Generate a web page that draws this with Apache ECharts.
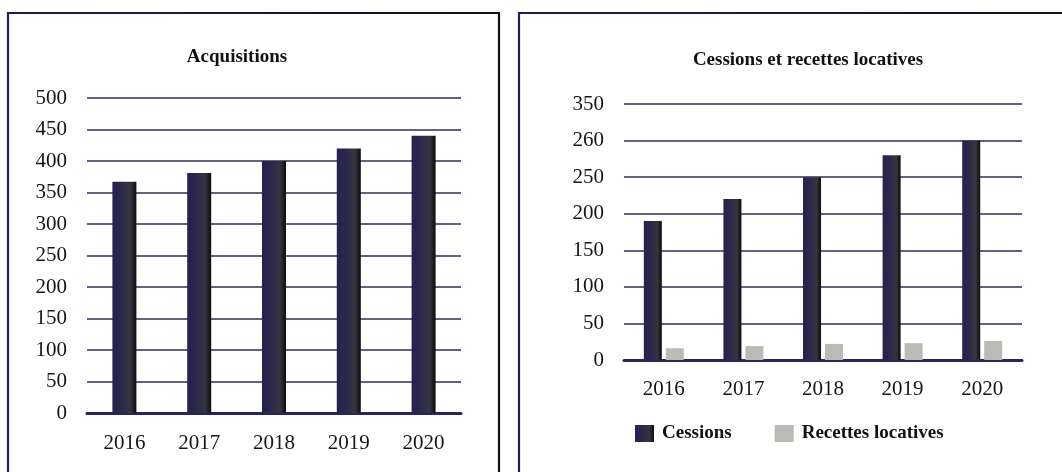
<!DOCTYPE html>
<html>
<head>
<meta charset="utf-8">
<script src="https://cdn.jsdelivr.net/npm/echarts@6/dist/echarts.min.js"></script>
<style>
html,body{margin:0;padding:0;background:#fff;}
#c{width:1062px;height:472px;}
</style>
</head>
<body>
<div id="c"></div>
<script>
// ---- data ----
const years = ['2016', '2017', '2018', '2019', '2020'];
const acquisitions = [367, 381, 400, 420, 440];
const cessions = [190, 220, 250, 280, 300];
const recettesLocatives = [16, 19, 22, 23, 26];
const leftTickLabels = ['0', '50', '100', '150', '200', '250', '300', '350', '400', '450', '500'];
const rightTickLabels = ['0', '50', '100', '150', '200', '250', '260', '350'];
const leftTitle = 'Acquisitions';
const rightTitle = 'Cessions et recettes locatives';
const seriesNames = ['Cessions', 'Recettes locatives'];

const FONT = 'Liberation Serif';

const barGrad = {
  type: 'linear', x: 0, y: 0, x2: 1, y2: 0,
  colorStops: [
    { offset: 0, color: '#26204f' },
    { offset: 0.45, color: '#2d2a4a' },
    { offset: 0.75, color: '#36353f' },
    { offset: 1, color: '#0c0c0e' }
  ]
};
const borderGrad = {
  type: 'linear', x: 0, y: 0, x2: 1, y2: 0,
  colorStops: [
    { offset: 0, color: '#221d52' },
    { offset: 1, color: '#111111' }
  ]
};

function yAxis(gridIndex, max, labels) {
  return {
    type: 'value', gridIndex: gridIndex, min: 0, max: max, interval: 50,
    axisLine: { show: false }, axisTick: { show: false },
    axisLabel: {
      margin: 20, color: '#151515', fontFamily: FONT, fontSize: 21,
      formatter: function (v) { return labels[Math.round(v / 50)]; }
    },
    splitLine: { show: true, lineStyle: { color: '#646280', width: 1.8 } }
  };
}
function xAxis(gridIndex, margin) {
  return {
    type: 'category', gridIndex: gridIndex, data: years,
    axisLine: { show: true, lineStyle: { color: '#28255a', width: 3 } },
    axisTick: { show: false },
    axisLabel: { margin: margin, color: '#151515', fontFamily: FONT, fontSize: 21 }
  };
}

const chart = echarts.init(document.getElementById('c'), null, { renderer: 'canvas' });
chart.setOption({
  animation: false,
  backgroundColor: '#ffffff',
  textStyle: { fontFamily: FONT },
  title: [
    { text: leftTitle, left: 232, top: 43, textAlign: 'center',
      textStyle: { fontFamily: FONT, fontSize: 19, fontWeight: 'bold', color: '#111' } },
    { text: rightTitle, left: 803, top: 46, textAlign: 'center',
      textStyle: { fontFamily: FONT, fontSize: 19, fontWeight: 'bold', color: '#111' } }
  ],
  legend: {
    data: seriesNames,
    left: 630, top: 419,
    itemWidth: 19, itemHeight: 17, itemGap: 43,
    icon: 'rect',
    textStyle: { fontFamily: FONT, fontSize: 19, fontWeight: 'bold', color: '#111', padding: [0, 0, 0, 3] }
  },
  grid: [
    { left: 87, right: 601, top: 98, bottom: 59 },
    { left: 624, right: 40, top: 104, bottom: 112 }
  ],
  xAxis: [xAxis(0, 20), xAxis(1, 19)],
  yAxis: [yAxis(0, 500, leftTickLabels), yAxis(1, 350, rightTickLabels)],
  series: [
    { name: 'Acquisitions', type: 'bar', xAxisIndex: 0, yAxisIndex: 0,
      data: acquisitions, barWidth: 24, itemStyle: { color: barGrad } },
    { name: seriesNames[0], type: 'bar', xAxisIndex: 1, yAxisIndex: 1,
      data: cessions, barWidth: 18, barGap: '22%', itemStyle: { color: barGrad } },
    { name: seriesNames[1], type: 'bar', xAxisIndex: 1, yAxisIndex: 1,
      data: recettesLocatives, barWidth: 18, barGap: '22%', itemStyle: { color: '#bdb9b5' } }
  ],
  graphic: [
    { type: 'rect', silent: true, z: 100,
      shape: { x: 8, y: 13, width: 491, height: 520 },
      style: { fill: 'none', stroke: borderGrad, lineWidth: 2.2 } },
    { type: 'rect', silent: true, z: 100,
      shape: { x: 519, y: 13, width: 620, height: 520 },
      style: { fill: 'none', stroke: borderGrad, lineWidth: 2.2 } }
  ]
});
</script>
</body>
</html>
